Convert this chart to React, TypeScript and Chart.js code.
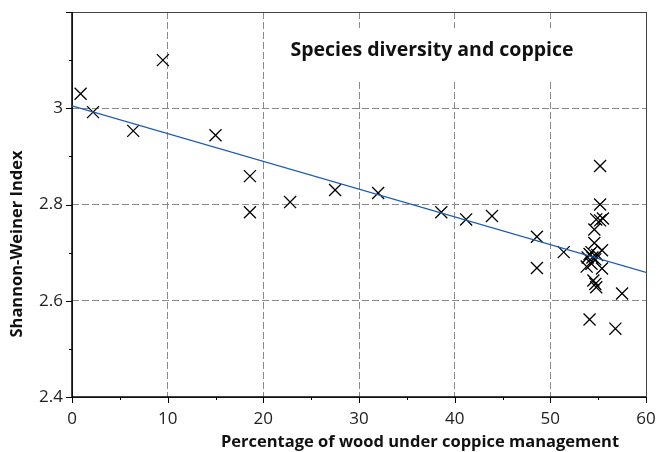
import React, { useEffect, useRef } from "react";
import { Chart, registerables } from "chart.js";

Chart.register(...registerables);

// Percentage of wood under coppice management (x) vs Shannon-Weiner index (y)
const coppicePct = [
  0.9, 2.2, 6.4, 9.5, 15.0, 18.6, 18.6, 22.8, 27.5, 32.0,
  38.6, 41.2, 43.9, 48.6, 48.6, 51.4,
  55.2, 55.2, 54.8, 55.2, 55.5, 54.6, 54.6, 55.4,
  54.1, 54.4, 54.7, 54.9, 53.8, 54.3, 55.4, 54.3, 53.9,
  54.5, 54.7, 54.8, 57.5, 54.1, 56.8,
];
const diversity = [
  3.03, 2.992, 2.953, 3.10, 2.944, 2.859, 2.784, 2.805, 2.83, 2.824,
  2.784, 2.769, 2.776, 2.733, 2.668, 2.701,
  2.880, 2.800, 2.769, 2.767, 2.771, 2.748, 2.720, 2.705,
  2.697, 2.690, 2.686, 2.695, 2.671, 2.677, 2.667, 2.701, 2.690,
  2.642, 2.635, 2.628, 2.615, 2.561, 2.542,
];
// Fitted regression line end points
const fitX = [0, 60];
const fitY = [3.005, 2.659];

const chartTitle = "Species diversity and coppice";
const xTitle = "Percentage of wood under coppice management";
const yTitle = "Shannon-Weiner Index";

const FONT = "'Open Sans', 'DejaVu Sans', sans-serif";

const decorPlugin = {
  id: "decor",
  beforeDatasetsDraw(chart: any) {
    const { ctx, chartArea: a } = chart;
    ctx.save();
    // title box
    ctx.fillStyle = "#ffffff";
    ctx.fillRect(276, 28, 330, 52);
    ctx.fillStyle = "#111";
    ctx.font = `bold 19.5px ${FONT}`;
    ctx.textAlign = "center";
    ctx.textBaseline = "middle";
    ctx.fillText(chartTitle, 432, 50);
    // frame
    ctx.strokeStyle = "#444";
    ctx.lineWidth = 1;
    ctx.strokeRect(a.left + 0.5, a.top + 0.5, a.right - a.left, a.bottom - a.top);
    ctx.strokeStyle = "#000";
    ctx.lineWidth = 1.5;
    ctx.beginPath();
    ctx.moveTo(a.left, a.top);
    ctx.lineTo(a.left, a.bottom);
    ctx.lineTo(a.right, a.bottom);
    ctx.stroke();
    // ticks
    const xs = chart.scales.x;
    const ys = chart.scales.y;
    ctx.lineWidth = 1;
    ctx.beginPath();
    for (let v = 0; v <= 60; v += 5) {
      const p = Math.round(xs.getPixelForValue(v)) + 0.5;
      const len = v % 10 === 0 ? 6 : 3;
      ctx.moveTo(p, a.bottom);
      ctx.lineTo(p, a.bottom + len);
    }
    for (let i = 24; i <= 32; i++) {
      const p = Math.round(ys.getPixelForValue(i / 10)) + 0.5;
      const len = i % 2 === 0 ? 6 : 3;
      ctx.moveTo(a.left, p);
      ctx.lineTo(a.left - len, p);
    }
    ctx.stroke();
    // axis titles
    ctx.fillStyle = "#111";
    ctx.font = `bold 16.5px ${FONT}`;
    ctx.textAlign = "center";
    ctx.textBaseline = "middle";
    ctx.fillText(xTitle, 420, 442);
    ctx.translate(17, 244);
    ctx.rotate(-Math.PI / 2);
    ctx.fillText(yTitle, 0, 0);
    ctx.restore();
  },
};

export default function App() {
  const ref = useRef<HTMLCanvasElement>(null);
  useEffect(() => {
    if (!ref.current) return;
    const pts = coppicePct.map((x, i) => ({ x, y: diversity[i] }));
    const fit = fitX.map((x, i) => ({ x, y: fitY[i] }));
    const chart = new Chart(ref.current, {
      type: "scatter",
      data: {
        datasets: [
          {
            type: "line",
            data: fit,
            borderColor: "#1a5cb0",
            borderWidth: 1.2,
            pointRadius: 0,
            fill: false,
          } as any,
          {
            data: pts,
            pointStyle: "crossRot",
            pointRadius: 8.5,
            pointBorderColor: "#000",
            pointBorderWidth: 1.3,
            pointBackgroundColor: "#000",
          } as any,
        ],
      },
      options: {
        responsive: false,
        animation: false,
        layout: { padding: { top: 12, right: 11, left: 0, bottom: 0 } },
        plugins: { legend: { display: false }, tooltip: { enabled: false } },
        scales: {
          x: {
            type: "linear",
            min: 0,
            max: 60,
            afterFit: (s: any) => { s.height = 55; s.paddingLeft = 0; s.paddingRight = 0; },
            ticks: {
              stepSize: 5,
              padding: 12,
              color: "#222",
              font: { family: FONT, size: 17 },
              callback: (v: any) => (v % 10 === 0 ? String(v) : ""),
            },
            border: { display: false, dash: [7, 3] },
            grid: {
              drawTicks: false,
              lineWidth: 1,
              color: (c: any) => {
                const v = c.tick?.value;
                return v % 10 === 0 && v > 0 && v < 60 ? "#8a8a8a" : "rgba(0,0,0,0)";
              },
            },
          },
          y: {
            type: "linear",
            min: 2.4,
            max: 3.2,
            afterFit: (s: any) => { s.width = 72; s.paddingTop = 0; s.paddingBottom = 0; },
            ticks: {
              stepSize: 0.1,
              padding: 9,
              color: "#222",
              font: { family: FONT, size: 17 },
              callback: (v: any) => {
                const t = Math.round(v * 10);
                return t % 2 === 0 && t < 32 ? String(Number((t / 10).toFixed(1))) : "";
              },
            },
            border: { display: false, dash: [7, 3] },
            grid: {
              drawTicks: false,
              lineWidth: 1,
              color: (c: any) => {
                const t = Math.round((c.tick?.value ?? 0) * 10);
                return t % 2 === 0 && t > 24 && t < 32 ? "#8a8a8a" : "rgba(0,0,0,0)";
              },
            },
          },
        },
      },
      plugins: [decorPlugin],
    } as any);
    return () => chart.destroy();
  }, []);
  return (
    <div style={{ position: "fixed", left: 0, top: 0, width: 657, height: 452, background: "#fff" }}>
      <canvas ref={ref} width={657} height={452} style={{ display: "block" }} />
    </div>
  );
}
